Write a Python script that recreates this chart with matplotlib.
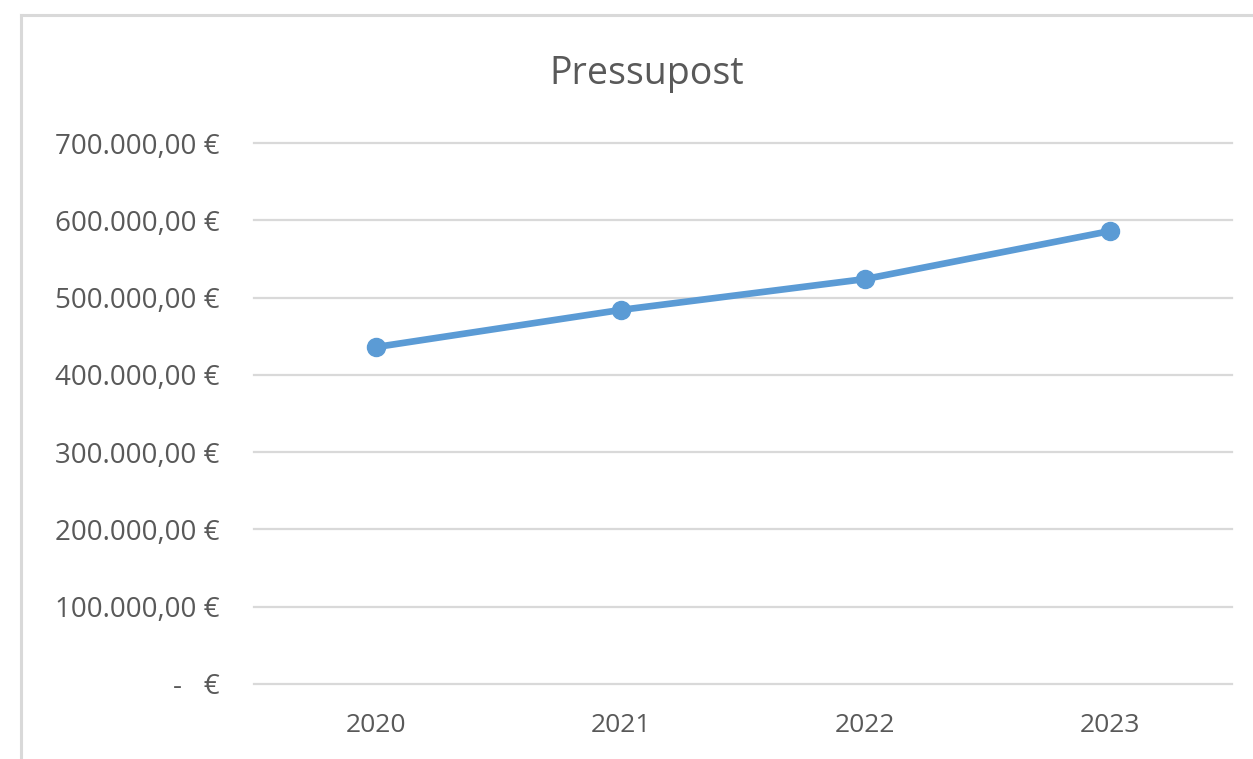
import matplotlib
matplotlib.use("Agg")
import matplotlib.pyplot as plt
from matplotlib.lines import Line2D

years = ["2020", "2021", "2022", "2023"]
values = [436000, 484000, 524000, 586000]
y_ticks = [0, 100000, 200000, 300000, 400000, 500000, 600000, 700000]
y_labels = ["-   €", "100.000,00 €", "200.000,00 €", "300.000,00 €",
            "400.000,00 €", "500.000,00 €", "600.000,00 €", "700.000,00 €"]
title = "Pressupost"

W, H = 1253, 759
dpi = 100
fig = plt.figure(figsize=(W / dpi, H / dpi), dpi=dpi)
plt.rcParams['font.family'] = ['Open Sans', 'DejaVu Sans']

# outer chart frame (partially cropped)
fx0, fy0 = 21 / W, 1 - 15 / H
fig.add_artist(Line2D([fx0, fx0], [0, fy0], transform=fig.transFigure,
                      color="#d9d9d9", lw=2.2))
fig.add_artist(Line2D([fx0, 1], [fy0, fy0], transform=fig.transFigure,
                      color="#d9d9d9", lw=2.2))

left, right = 254 / W, 1232 / W
top, bottom = 1 - 143 / H, 1 - 684 / H
ax = fig.add_axes([left, bottom, right - left, top - bottom])

x = list(range(len(years)))
ax.plot(x, values, color="#5b9bd5", lw=4.8, marker="o", markersize=13,
        solid_capstyle="round", zorder=3)

ax.set_xlim(-0.5, len(years) - 0.5)
ax.set_ylim(0, 700000)
ax.set_yticks(y_ticks)
ax.set_yticklabels(y_labels)
ax.set_xticks(x)
ax.set_xticklabels(years)

for yv in y_ticks:
    ax.axhline(yv, color="#d9d9d9", lw=1.6, zorder=1, clip_on=False)

for s in ax.spines.values():
    s.set_visible(False)
ax.tick_params(axis="both", length=0, labelcolor="#595959")
ax.tick_params(axis="y", labelsize=20, pad=25)
ax.tick_params(axis="x", labelsize=19, pad=21)

fig.text(647 / W, 1 - 84 / H, title, ha="center", va="baseline",
         fontsize=27, color="#595959")

fig.savefig("out.png", dpi=dpi, facecolor="white")
